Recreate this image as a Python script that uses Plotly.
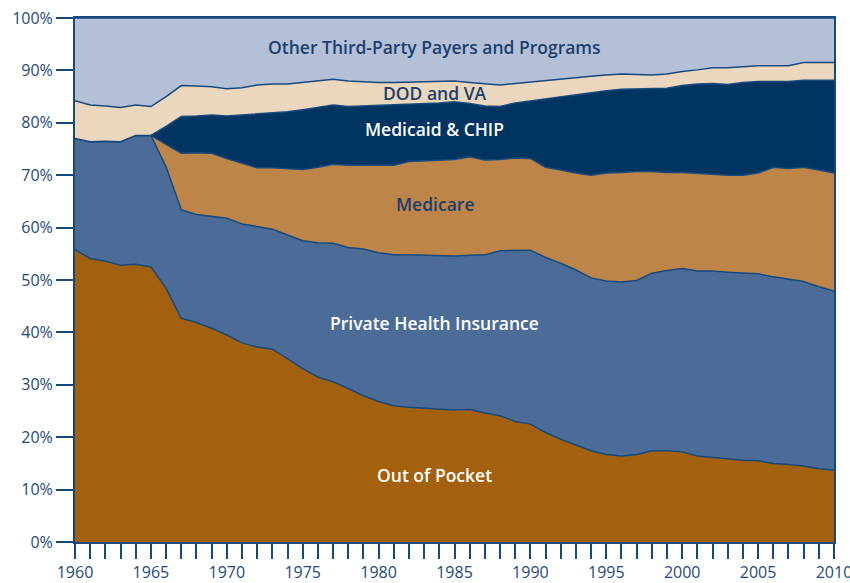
import plotly.graph_objects as go

years = list(range(1960, 2011))

out_of_pocket = [55.8, 54.1, 53.6, 52.8, 53.0, 52.5, 48.4, 42.7, 41.9, 40.8,
                 39.5, 38.0, 37.2, 36.8, 35.0, 33.1, 31.5, 30.6, 29.3, 27.9,
                 26.8, 26.0, 25.7, 25.5, 25.3, 25.2, 25.3, 24.6, 24.1, 23.0,
                 22.5, 20.9, 19.6, 18.5, 17.4, 16.7, 16.4, 16.7, 17.4, 17.4,
                 17.2, 16.4, 16.1, 15.8, 15.6, 15.5, 15.0, 14.8, 14.5, 14.0,
                 13.7]

private_insurance = [21.2, 22.3, 22.9, 23.6, 24.6, 25.1, 23.2, 20.7, 20.6, 21.4,
                     22.3, 22.7, 23.0, 22.9, 23.6, 24.4, 25.6, 26.4, 26.9, 28.0,
                     28.4, 28.8, 29.1, 29.2, 29.3, 29.4, 29.4, 30.2, 31.5, 32.7,
                     33.2, 33.4, 33.6, 33.4, 33.0, 33.1, 33.2, 33.2, 33.9, 34.4,
                     35.0, 35.3, 35.6, 35.7, 35.7, 35.7, 35.6, 35.4, 35.2, 34.7,
                     34.2]

medicare = [0, 0, 0, 0, 0, 0, 4.3, 10.8, 11.8, 12.0,
            11.4, 11.6, 11.2, 11.7, 12.6, 13.6, 14.4, 15.1, 15.7, 16.0,
            16.7, 17.1, 17.8, 18.0, 18.2, 18.4, 18.8, 18.1, 17.4, 17.6,
            17.5, 17.2, 17.8, 18.5, 19.6, 20.6, 20.9, 20.8, 19.4, 18.7,
            18.3, 18.7, 18.5, 18.5, 18.7, 19.2, 20.9, 21.1, 21.8, 22.3,
            22.5]

medicaid_chip = [0, 0, 0, 0, 0, 0, 3.4, 7.0, 7.0, 7.3,
                 8.1, 9.2, 10.4, 10.5, 10.9, 11.4, 11.4, 11.3, 11.2, 11.3,
                 11.4, 11.5, 10.9, 11.0, 11.0, 11.0, 10.2, 10.3, 10.1, 10.5,
                 11.0, 13.0, 13.9, 14.9, 15.8, 15.7, 15.9, 15.8, 15.8, 16.1,
                 16.6, 17.0, 17.3, 17.3, 17.7, 17.5, 16.4, 16.6, 16.6, 17.1,
                 17.7]

dod_va = [7.2, 7.0, 6.7, 6.5, 5.8, 5.5, 5.7, 5.9, 5.7, 5.4,
          5.2, 5.2, 5.4, 5.5, 5.3, 5.2, 5.1, 4.9, 4.9, 4.6,
          4.4, 4.3, 4.3, 4.2, 4.2, 4.0, 4.0, 4.2, 4.1, 3.7,
          3.6, 3.5, 3.4, 3.3, 3.1, 3.0, 2.9, 2.7, 2.6, 2.7,
          2.7, 2.7, 3.0, 3.2, 3.0, 3.0, 3.0, 3.0, 3.4, 3.4,
          3.4]

other_third_party = [15.8, 16.6, 16.8, 17.1, 16.6, 16.9, 15.0, 12.9, 13.0, 13.1,
                     13.5, 13.3, 12.8, 12.6, 12.6, 12.3, 12.0, 11.7, 12.0, 12.2,
                     12.3, 12.3, 12.2, 12.1, 12.0, 12.0, 12.3, 12.6, 12.8, 12.5,
                     12.2, 12.0, 11.7, 11.4, 11.1, 10.9, 10.7, 10.8, 10.9, 10.7,
                     10.2, 9.9, 9.5, 9.5, 9.3, 9.1, 9.1, 9.1, 8.5, 8.5,
                     8.5]

series_names = ["Out of Pocket", "Private Health Insurance", "Medicare",
                "Medicaid & CHIP", "DOD and VA", "Other Third-Party Payers and Programs"]
series_values = [out_of_pocket, private_insurance, medicare, medicaid_chip, dod_va, other_third_party]
fill_colors = ["#A3600D", "#4A6C97", "#BE8549", "#003461", "#EBD6BE", "#B4C0D8"]

y_ticks = list(range(0, 101, 10))
x_tick_labels = [str(y) if y % 5 == 0 else "" for y in years]

NAVY = "#174A7C"
FONT = "Open Sans"

fig = go.Figure()
for name, vals, col in zip(series_names, series_values, fill_colors):
    fig.add_trace(go.Scatter(
        x=years, y=vals, name=name, mode="lines", stackgroup="one",
        line=dict(color=NAVY, width=1.5), fillcolor=col, hoverinfo="x+y+name",
    ))

labels = [
    ("Other Third-Party Payers and Programs", 94.5, "#1C3F6E"),
    ("DOD and VA", 85.7, "#1C3F6E"),
    ("Medicaid & CHIP", 78.8, "#FFFFFF"),
    ("Medicare", 64.5, "#1C3F6E"),
    ("Private Health Insurance", 41.8, "#FFFFFF"),
    ("Out of Pocket", 12.8, "#FFFFFF"),
]
for text, yv, col in labels:
    fig.add_annotation(x=1983.7, y=yv, text=text, showarrow=False,
                       font=dict(family=FONT, size=17.5, color=col, weight=600),
                       xanchor="center", yanchor="middle")

fig.update_layout(
    width=850, height=583,
    margin=dict(l=75, r=16, t=18, b=41, autoexpand=False),
    paper_bgcolor="white", plot_bgcolor="white",
    showlegend=False,
    font=dict(family=FONT, size=16, color="#1F4A7A"),
)
fig.update_xaxes(
    range=[1960, 2010], tickmode="array", tickvals=years, ticktext=x_tick_labels,
    ticks="outside", ticklen=15, tickwidth=1.5, tickcolor=NAVY,
    showline=True, linecolor=NAVY, linewidth=2, mirror=True,
    showgrid=False, zeroline=False, automargin=False, ticklabeloverflow="allow",
    tickfont=dict(family=FONT, size=16, color="#1F4A7A"),
)
fig.update_yaxes(
    range=[0, 100], tickmode="array", tickvals=y_ticks,
    ticktext=[f"{v}%" for v in y_ticks],
    ticks="outside", ticklen=17, tickwidth=1.5, tickcolor=NAVY,
    showline=True, linecolor=NAVY, linewidth=2, mirror=True,
    showgrid=False, zeroline=False, automargin=False,
    tickfont=dict(family=FONT, size=16, color="#1F4A7A"),
)

fig.write_html("out.html", config={"displayModeBar": False},
               post_script="document.body.style.margin='0';")
